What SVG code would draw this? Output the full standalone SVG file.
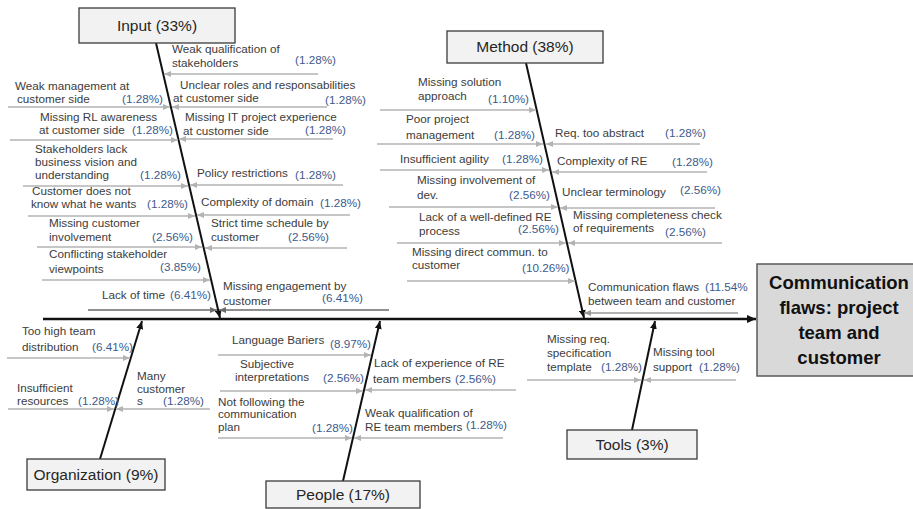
<svg xmlns="http://www.w3.org/2000/svg" width="913" height="509" viewBox="0 0 913 509">
<style>
.t{font-family:"Liberation Sans",Arial,sans-serif;font-size:11.7px;fill:#3c3c3c}
.p{fill:#3d5a8c}
.cat rect{fill:#f2f2f2;stroke:#3a3a3a;stroke-width:1.3}
.cat text{font-family:"Liberation Sans",Arial,sans-serif;font-size:15.5px;fill:#262626;text-anchor:middle}
.eff rect{fill:#d9d9d9;stroke:#595959;stroke-width:1.5}
.eff text{font-family:"Liberation Sans",Arial,sans-serif;font-size:18.5px;font-weight:bold;fill:#111;text-anchor:middle}
.a{stroke:#b3b3b3;stroke-width:1.5;fill:none;marker-end:url(#ag)}
.d{stroke:#6b6b6b;stroke-width:1.6;fill:none;marker-end:url(#ad)}
.m{stroke:#999;stroke-width:1.5;fill:none;marker-end:url(#am)}
.b{stroke:#111;stroke-width:2;fill:none;marker-end:url(#ab)}
.s{stroke:#111;stroke-width:2.6;fill:none;marker-end:url(#as)}
</style>
<defs>
<marker id="ag" markerUnits="userSpaceOnUse" markerWidth="7" markerHeight="6" refX="7" refY="3" orient="auto"><path d="M0,0 L7,3 L0,6 z" fill="#b3b3b3"/></marker>
<marker id="ad" markerUnits="userSpaceOnUse" markerWidth="7" markerHeight="6" refX="7" refY="3" orient="auto"><path d="M0,0 L7,3 L0,6 z" fill="#6b6b6b"/></marker>
<marker id="am" markerUnits="userSpaceOnUse" markerWidth="7" markerHeight="6" refX="7" refY="3" orient="auto"><path d="M0,0 L7,3 L0,6 z" fill="#999"/></marker>
<marker id="ab" markerUnits="userSpaceOnUse" markerWidth="8" markerHeight="7" refX="8" refY="3.5" orient="auto"><path d="M0,0 L8,3.5 L0,7 z" fill="#111"/></marker>
<marker id="as" markerUnits="userSpaceOnUse" markerWidth="9" markerHeight="8" refX="9" refY="4" orient="auto"><path d="M0,0 L9,4 L0,8 z" fill="#111"/></marker>
</defs>

<g id="connectors">
<line class="s" x1="43" y1="319" x2="756" y2="319"/>
<line class="b" x1="156" y1="43" x2="220" y2="318"/>
<line class="b" x1="526" y1="63" x2="584" y2="318"/>
<line class="b" x1="100" y1="459" x2="142" y2="321"/>
<line class="b" x1="343" y1="481" x2="380" y2="321"/>
<line class="b" x1="632" y1="430" x2="655" y2="321"/>
<!-- input left -->
<line class="a" x1="8" y1="107" x2="170" y2="107"/>
<line class="a" x1="10" y1="140" x2="178" y2="140"/>
<line class="a" x1="23" y1="186" x2="188" y2="186"/>
<line class="a" x1="28" y1="216" x2="195" y2="216"/>
<line class="a" x1="37" y1="247" x2="202" y2="247"/>
<line class="a" x1="42" y1="280" x2="210" y2="280"/>
<line class="d" x1="88" y1="310" x2="217" y2="310"/>
<!-- input right -->
<line class="a" x1="318" y1="74" x2="164" y2="74"/>
<line class="a" x1="327" y1="107" x2="172" y2="107"/>
<line class="a" x1="333" y1="139" x2="179" y2="139"/>
<line class="a" x1="343" y1="185" x2="190" y2="185"/>
<line class="a" x1="350" y1="215" x2="197" y2="215"/>
<line class="a" x1="347" y1="248" x2="205" y2="248"/>
<line class="d" x1="389" y1="310" x2="219" y2="310"/>
<!-- organization -->
<line class="a" x1="7" y1="358" x2="130" y2="358"/>
<line class="a" x1="8" y1="409" x2="114" y2="409"/>
<line class="a" x1="210" y1="409" x2="116" y2="409"/>
<!-- people -->
<line class="a" x1="218" y1="355" x2="371" y2="355"/>
<line class="a" x1="220" y1="391" x2="363" y2="391"/>
<line class="a" x1="218" y1="438" x2="352" y2="438"/>
<line class="a" x1="516" y1="390" x2="365" y2="390"/>
<line class="a" x1="503" y1="438" x2="354" y2="438"/>
<!-- method left -->
<line class="a" x1="380" y1="110" x2="536" y2="110"/>
<line class="a" x1="377" y1="144" x2="543" y2="144"/>
<line class="a" x1="380" y1="170" x2="549" y2="170"/>
<line class="a" x1="389" y1="207" x2="558" y2="207"/>
<line class="a" x1="397" y1="243" x2="566" y2="243"/>
<line class="a" x1="407" y1="281" x2="575" y2="281"/>
<!-- method right -->
<line class="a" x1="700" y1="144" x2="546" y2="144"/>
<line class="a" x1="707" y1="172" x2="552" y2="172"/>
<line class="a" x1="715" y1="208" x2="560" y2="208"/>
<line class="a" x1="722" y1="243" x2="568" y2="243"/>
<line class="m" x1="738" y1="313" x2="584" y2="313"/>
<!-- tools -->
<line class="a" x1="527" y1="380" x2="641" y2="380"/>
<line class="a" x1="736" y1="380" x2="644" y2="380"/>
</g>

<g id="effect" class="eff">
<rect x="757" y="264" width="160" height="112"/>
<text x="839" y="289">Communication</text>
<text x="839" y="314">flaws: project</text>
<text x="839" y="339">team and</text>
<text x="839" y="364">customer</text>
</g>

<g id="cat-input" class="cat"><rect x="79" y="8" width="156" height="35"/><text x="157" y="31">Input (33%)</text></g>
<g id="cat-method" class="cat"><rect x="447" y="31" width="156" height="32"/><text x="525" y="52">Method (38%)</text></g>
<g id="cat-organization" class="cat"><rect x="27" y="459" width="138" height="31"/><text x="96" y="480">Organization (9%)</text></g>
<g id="cat-people" class="cat"><rect x="266" y="481" width="154" height="27"/><text x="343" y="500">People (17%)</text></g>
<g id="cat-tools" class="cat"><rect x="567" y="430" width="130" height="29"/><text x="632" y="450">Tools (3%)</text></g>

<!-- Input causes left -->
<g id="in-l1" class="t"><text x="15" y="90">Weak management at</text><text x="17" y="103">customer side</text><text class="p" x="122" y="103">(1.28%)</text></g>
<g id="in-l2" class="t"><text x="40" y="121">Missing RL awareness</text><text x="39" y="134">at customer side</text><text class="p" x="132" y="134">(1.28%)</text></g>
<g id="in-l3" class="t"><text x="35" y="153">Stakeholders lack</text><text x="35" y="166">business vision and</text><text x="35" y="179">understanding</text><text class="p" x="140" y="179">(1.28%)</text></g>
<g id="in-l4" class="t"><text x="32" y="195">Customer does not</text><text x="31" y="208">know what he wants</text><text class="p" x="147" y="208">(1.28%)</text></g>
<g id="in-l5" class="t"><text x="49" y="227">Missing customer</text><text x="49" y="241">involvement</text><text class="p" x="152" y="241">(2.56%)</text></g>
<g id="in-l6" class="t"><text x="49" y="258">Conflicting stakeholder</text><text x="49" y="273">viewpoints</text><text class="p" x="160" y="271">(3.85%)</text></g>
<g id="in-l7" class="t"><text x="102" y="299">Lack of time</text><text class="p" x="170" y="299">(6.41%)</text></g>
<!-- Input causes right -->
<g id="in-r1" class="t"><text x="172" y="53">Weak qualification of</text><text x="172" y="67">stakeholders</text><text class="p" x="295" y="64">(1.28%)</text></g>
<g id="in-r2" class="t"><text x="180" y="89">Unclear roles and responsabilities</text><text x="173" y="102">at customer side</text><text class="p" x="325" y="104">(1.28%)</text></g>
<g id="in-r3" class="t"><text x="185" y="121">Missing IT project experience</text><text x="183" y="135">at customer side</text><text class="p" x="305" y="134">(1.28%)</text></g>
<g id="in-r4" class="t"><text x="197" y="177">Policy restrictions</text><text class="p" x="295" y="179">(1.28%)</text></g>
<g id="in-r5" class="t"><text x="201" y="206">Complexity of domain</text><text class="p" x="320" y="207">(1.28%)</text></g>
<g id="in-r6" class="t"><text x="211" y="227">Strict time schedule by</text><text x="211" y="241">customer</text><text class="p" x="288" y="241">(2.56%)</text></g>
<g id="in-r7" class="t"><text x="223" y="290">Missing engagement by</text><text x="223" y="305">customer</text><text class="p" x="322" y="302">(6.41%)</text></g>

<!-- Organization -->
<g id="org-l1" class="t"><text x="22" y="335">Too high team</text><text x="22" y="351">distribution</text><text class="p" x="92" y="351">(6.41%)</text></g>
<g id="org-l2" class="t"><text x="17" y="392">Insufficient</text><text x="17" y="405">resources</text><text class="p" x="78" y="405">(1.28%)</text></g>
<g id="org-r1" class="t"><text x="137" y="380">Many</text><text x="137" y="393">customer</text><text x="137" y="405">s</text><text class="p" x="163" y="405">(1.28%)</text></g>

<!-- People -->
<g id="ppl-l1" class="t"><text x="232" y="344">Language Bariers</text><text class="p" x="330" y="348">(8.97%)</text></g>
<g id="ppl-l2" class="t"><text x="240" y="368">Subjective</text><text x="235" y="381">interpretations</text><text class="p" x="323" y="382">(2.56%)</text></g>
<g id="ppl-l3" class="t"><text x="218" y="406">Not following the</text><text x="218" y="418">communication</text><text x="218" y="431">plan</text><text class="p" x="312" y="432">(1.28%)</text></g>
<g id="ppl-r1" class="t"><text x="374" y="367">Lack of experience of RE</text><text x="373" y="383">team members</text><text class="p" x="455" y="383">(2.56%)</text></g>
<g id="ppl-r2" class="t"><text x="365" y="417">Weak qualification of</text><text x="365" y="431">RE team members</text><text class="p" x="466" y="429">(1.28%)</text></g>

<!-- Method left -->
<g id="met-l1" class="t"><text x="418" y="86">Missing solution</text><text x="418" y="100">approach</text><text class="p" x="488" y="103">(1.10%)</text></g>
<g id="met-l2" class="t"><text x="406" y="123">Poor project</text><text x="406" y="139">management</text><text class="p" x="494" y="139">(1.28%)</text></g>
<g id="met-l3" class="t"><text x="400" y="163">Insufficient agility</text><text class="p" x="502" y="163">(1.28%)</text></g>
<g id="met-l4" class="t"><text x="417" y="184">Missing involvement of</text><text x="417" y="199">dev.</text><text class="p" x="509" y="199">(2.56%)</text></g>
<g id="met-l5" class="t"><text x="419" y="221">Lack of a well-defined RE</text><text x="419" y="235">process</text><text class="p" x="518" y="233">(2.56%)</text></g>
<g id="met-l6" class="t"><text x="412" y="256">Missing direct commun. to</text><text x="412" y="269">customer</text><text class="p" x="522" y="272">(10.26%)</text></g>
<!-- Method right -->
<g id="met-r1" class="t"><text x="555" y="137">Req. too abstract</text><text class="p" x="665" y="137">(1.28%)</text></g>
<g id="met-r2" class="t"><text x="557" y="165">Complexity of RE</text><text class="p" x="672" y="166">(1.28%)</text></g>
<g id="met-r3" class="t"><text x="562" y="196">Unclear terminology</text><text class="p" x="680" y="194">(2.56%)</text></g>
<g id="met-r4" class="t"><text x="573" y="219">Missing completeness check</text><text x="573" y="232">of requirements</text><text class="p" x="665" y="236">(2.56%)</text></g>
<g id="met-r5" class="t"><text x="588" y="291">Communication flaws</text><text x="588" y="305">between team and customer</text><text class="p" x="705" y="291">(11.54%</text></g>

<!-- Tools -->
<g id="tool-l1" class="t"><text x="547" y="343">Missing req.</text><text x="547" y="357">specification</text><text x="547" y="371">template</text><text class="p" x="601" y="371">(1.28%)</text></g>
<g id="tool-r1" class="t"><text x="653" y="356">Missing tool</text><text x="653" y="371">support</text><text class="p" x="699" y="371">(1.28%)</text></g>
</svg>
